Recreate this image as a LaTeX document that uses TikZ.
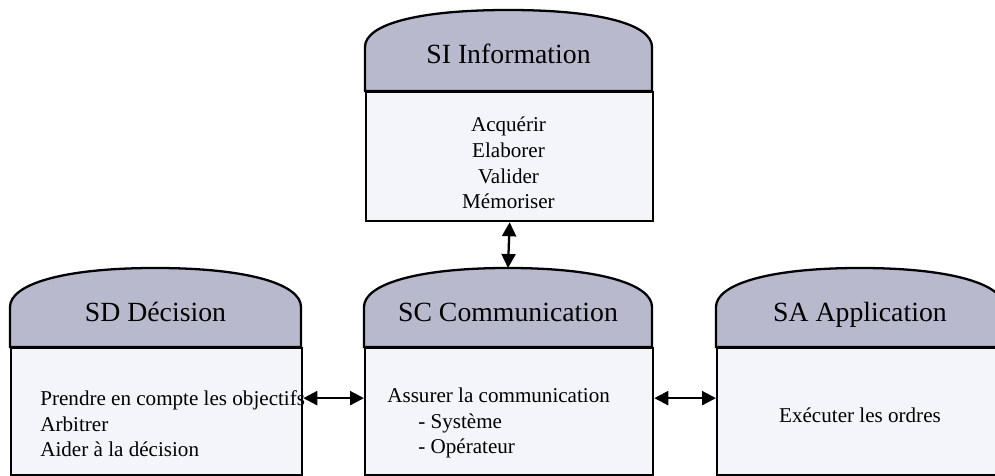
\documentclass[tikz,border=0pt]{standalone}
\usepackage{fontspec}
\setmainfont{Liberation Serif}
\usetikzlibrary{arrows.meta}
\definecolor{entete}{RGB}{184,185,204}
\definecolor{fond}{RGB}{243,245,250}
\begin{document}
\begin{tikzpicture}[x=0.2mm,y=-0.2mm,
        tete/.style = {draw,line width=1.3pt,fill=entete},
        corps/.style = {draw,line width=1.3pt,fill=fond,inner sep=0pt,anchor=north west},
        titre/.style = {font=\fontsize{15.8}{19}\selectfont,anchor=base},
        texte/.style = {font=\fontsize{12}{14.6}\selectfont,inner sep=0pt},
        fleche/.style = {line width=1.3pt,{Triangle[length=2.8mm,width=2.8mm]}-{Triangle[length=2.8mm,width=2.8mm]}}]
                \useasboundingbox (0,0) rectangle (995,476);
                \clip (0,0) rectangle (995,476);

                % corps des blocs
                \node[corps,minimum width=57.4mm,minimum height=25.8mm] (si) at (365,91) {};
                \node[corps,minimum width=58.2mm,minimum height=25.4mm] (sd) at (10,347) {};
                \node[corps,minimum width=57.6mm,minimum height=25.4mm] (sc) at (364,347) {};
                \node[corps,minimum width=57.6mm,minimum height=25.4mm] (sa) at (716,347) {};

                % en-tetes
                \draw[tete] (365,91) -- (365,47) .. controls (365,25) and (415,10) .. (508.5,10)
                    .. controls (602,10) and (652,25) .. (652,47) -- (652,91) -- cycle;
                \draw[tete] (10,347) -- (10,307) .. controls (10,285) and (60,268) .. (155.5,268)
                    .. controls (251,268) and (301,285) .. (301,307) -- (301,347) -- cycle;
                \draw[tete] (364,347) -- (364,307) .. controls (364,285) and (414,268) .. (508,268)
                    coordinate (scHaut)
                    .. controls (602,268) and (652,285) .. (652,307) -- (652,347) -- cycle;
                \draw[tete] (716,347) -- (716,307) .. controls (716,285) and (766,268) .. (860,268)
                    .. controls (954,268) and (1004,285) .. (1004,307) -- (1004,347) -- cycle;

                % titres
                \node[titre] (siTitre) at (508.5,64) {SI Information};
                \node[titre] (sdTitre) at (155.5,322) {SD Décision};
                \node[titre] (scTitre) at (508,322) {SC Communication};
                \node[titre] (saTitre) at (860,322) {SA Application};

                % fonctions
                \node[texte,align=center] (siTexte) at (508.5,163)
                    {Acquérir\\Elaborer\\Valider\\Mémoriser};
                \node[texte,align=left,anchor=west] (sdTexte) at (40,424)
                    {Prendre en compte les objectifs\\Arbitrer\\Aider à la décision};
                \node[texte,align=left,anchor=west] (scTexte) at (387,423)
                    {Assurer la communication\\\hspace{6.2mm}- Système\\\hspace{6.2mm}- Opérateur};
                \node[texte] (saTexte) at (860,415) {Exécuter les ordres};

                % liaisons
                \draw[fleche] (si.south) -- (scHaut);
                \draw[fleche] ([yshift=2.7mm]sd.east) -- ([yshift=2.7mm]sc.west);
                \draw[fleche] ([yshift=2.7mm]sc.east) -- ([yshift=2.7mm]sa.west);
\end{tikzpicture}
\end{document}
